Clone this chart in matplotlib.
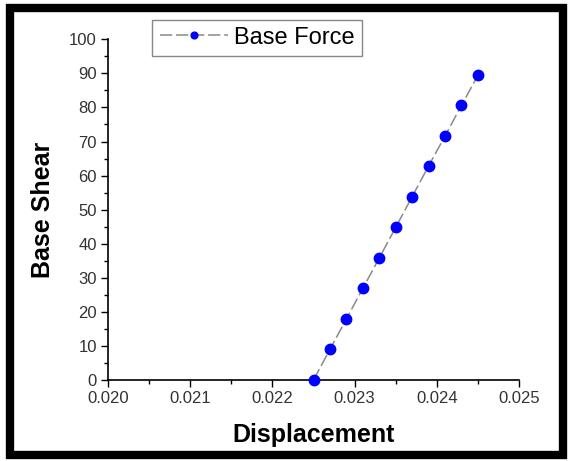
import numpy as np
import matplotlib.pyplot as plt
from matplotlib.patches import Rectangle
from matplotlib.ticker import MultipleLocator

plt.rcParams['font.family'] = ['Liberation Sans', 'DejaVu Sans']

displacement = [0.0225, 0.0227, 0.0229, 0.0231, 0.0233, 0.0235,
                0.0237, 0.0239, 0.0241, 0.0243, 0.0245]
base_force = [0, 9.0, 17.9, 26.9, 35.8, 44.8, 53.8, 62.8, 71.6, 80.6, 89.4]

x_ticks = [0.020, 0.021, 0.022, 0.023, 0.024, 0.025]
y_ticks = list(range(0, 101, 10))

fig = plt.figure(figsize=(5.69, 4.61), dpi=100)
ax = fig.add_axes([0.190, 0.1757, 0.722, 0.739])

ax.plot(displacement, base_force, color='#8a8a8a', linewidth=1.1,
        dashes=(8, 2.5), marker='o', markersize=7.5, markerfacecolor='blue',
        markeredgecolor='blue', label='Base Force', clip_on=False, zorder=3)

ax.set_xlim(0.020, 0.025)
ax.set_ylim(0, 100)
ax.set_xticks(x_ticks)
ax.set_xticklabels([f'{v:.3f}' for v in x_ticks])
ax.set_yticks(y_ticks)
ax.xaxis.set_minor_locator(MultipleLocator(0.0005))
ax.yaxis.set_minor_locator(MultipleLocator(5))
ax.tick_params(which='major', direction='out', length=5, width=1,
               labelsize=12, labelcolor='#333333', pad=3)
ax.tick_params(which='minor', direction='out', length=3, width=1)
ax.spines['top'].set_visible(False)
ax.spines['right'].set_visible(False)
for s in ['left', 'bottom']:
    ax.spines[s].set_linewidth(1.2)

ax.set_xlabel('Displacement', fontsize=18, fontweight='bold', labelpad=12)
ax.set_ylabel('Base Shear', fontsize=18, fontweight='bold', labelpad=10)

leg = ax.legend(loc='upper left', bbox_to_anchor=(0.108, 1.058), fontsize=17,
                handlelength=2.9, handletextpad=0.25, borderpad=0.3,
                borderaxespad=0, fancybox=False, framealpha=1, markerscale=0.65)
leg.get_frame().set_edgecolor('#888888')
leg.get_frame().set_linewidth(1)

# black frame around the picture
fig.patches.append(Rectangle((0.0176, 0.0130), 0.9719, 0.9696, transform=fig.transFigure,
                             fill=False, edgecolor='black', linewidth=6))

fig.savefig('out.png', dpi=100)
